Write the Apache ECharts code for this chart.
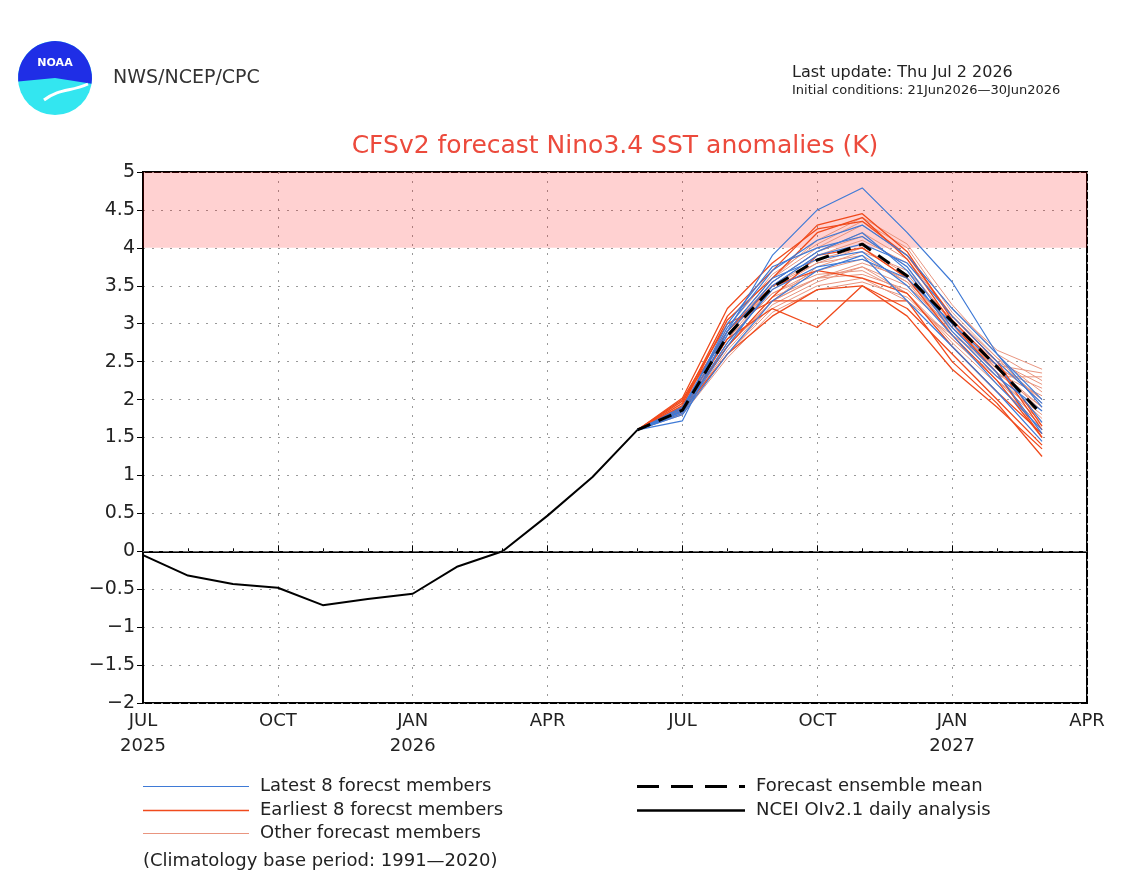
<!DOCTYPE html>
<html>
<head>
<meta charset="utf-8">
<title>CFSv2 Nino3.4</title>
<script src="https://cdn.jsdelivr.net/npm/echarts@6/dist/echarts.min.js"></script>
<style>
  html, body { margin: 0; padding: 0; background: #fff; }
  #chart { width: 1143px; height: 896px; }
</style>
</head>
<body>
<div id="chart"></div>
<script>
// x = months since JUL 2025
var tickLabels = ['JUL\n2025', 'OCT', 'JAN\n2026', 'APR', 'JUL', 'OCT', 'JAN\n2027', 'APR']
var obsX = [0, 1, 2, 3, 4, 5, 6, 7, 8, 9, 10, 11]
var obsValues = [-0.05, -0.32, -0.43, -0.48, -0.71, -0.63, -0.56, -0.2, 0.0, 0.47, 0.98, 1.6]
var fcstX = [11, 12, 13, 14, 15, 16, 17, 18, 19, 20]
var meanValues = [1.6, 1.86, 2.84, 3.48, 3.84, 4.05, 3.63, 3.03, 2.43, 1.8]

var latestMembers = [
  [1.6, 1.72, 2.9, 3.9, 4.5, 4.79, 4.2, 3.55, 2.6, 1.9],
  [1.6, 1.85, 3.0, 3.75, 4.0, 4.15, 3.75, 2.95, 2.35, 1.55],
  [1.6, 1.82, 2.7, 3.5, 3.9, 4.05, 3.8, 3.1, 2.5, 1.95],
  [1.6, 1.9, 2.9, 3.6, 3.85, 3.95, 3.5, 2.85, 2.2, 1.6],
  [1.6, 1.8, 2.6, 3.3, 3.7, 3.9, 3.3, 2.7, 2.1, 1.45],
  [1.6, 1.88, 2.95, 3.7, 4.1, 4.3, 3.9, 3.2, 2.6, 2.0],
  [1.6, 1.84, 2.75, 3.45, 3.75, 3.85, 3.6, 3.0, 2.45, 1.7],
  [1.6, 1.86, 2.85, 3.55, 3.95, 4.2, 3.7, 2.9, 2.3, 1.85]
]
var earliestMembers = [
  [1.6, 1.95, 3.1, 3.7, 4.3, 4.45, 3.95, 3.05, 2.45, 1.6],
  [1.6, 2.0, 3.0, 3.3, 3.3, 3.3, 3.3, 2.5, 1.95, 1.25],
  [1.6, 1.9, 2.8, 3.2, 2.95, 3.5, 3.1, 2.4, 1.9, 1.35],
  [1.6, 1.92, 3.05, 3.6, 4.2, 4.4, 3.85, 3.0, 2.35, 1.5],
  [1.6, 1.98, 2.9, 3.5, 3.7, 3.6, 3.4, 2.7, 2.1, 1.55],
  [1.6, 1.85, 2.6, 3.1, 3.45, 3.5, 3.2, 2.6, 2.0, 1.4],
  [1.6, 2.02, 3.2, 3.8, 4.25, 4.35, 3.9, 3.1, 2.5, 1.65],
  [1.6, 1.88, 2.7, 3.35, 3.9, 4.0, 3.6, 2.85, 2.25, 1.5]
]
var otherMembers = [
  [1.6, 1.85, 2.7, 3.3, 3.6, 3.75, 3.5, 2.95, 2.45, 2.0],
  [1.6, 1.82, 2.6, 3.2, 3.5, 3.6, 3.3, 2.85, 2.45, 2.35],
  [1.6, 1.9, 2.9, 3.6, 4.0, 4.3, 3.9, 3.2, 2.65, 2.4],
  [1.6, 1.86, 2.8, 3.4, 3.7, 3.85, 3.55, 3.0, 2.5, 2.2],
  [1.6, 1.84, 2.75, 3.5, 3.9, 4.1, 3.8, 3.1, 2.55, 2.1],
  [1.6, 1.88, 2.85, 3.5, 3.8, 4.0, 3.6, 2.9, 2.3, 1.75],
  [1.6, 1.8, 2.55, 3.15, 3.45, 3.55, 3.35, 2.8, 2.25, 1.8],
  [1.6, 1.92, 2.95, 3.65, 4.05, 4.35, 4.0, 3.15, 2.55, 1.95],
  [1.6, 1.87, 2.8, 3.4, 3.65, 3.7, 3.4, 2.75, 2.2, 1.65],
  [1.6, 1.83, 2.65, 3.3, 3.75, 3.95, 3.7, 3.05, 2.4, 1.9],
  [1.6, 1.9, 2.9, 3.55, 3.95, 4.15, 3.75, 3.0, 2.4, 1.85],
  [1.6, 1.85, 2.7, 3.35, 3.6, 3.65, 3.45, 2.9, 2.35, 2.05],
  [1.6, 1.89, 2.9, 3.6, 4.1, 4.4, 4.05, 3.25, 2.6, 2.25],
  [1.6, 1.84, 2.75, 3.45, 3.8, 3.9, 3.55, 2.85, 2.25, 1.7],
  [1.6, 1.86, 2.8, 3.5, 3.85, 4.0, 3.65, 2.95, 2.35, 1.9],
  [1.6, 1.81, 2.6, 3.25, 3.55, 3.75, 3.4, 2.8, 2.3, 2.3],
  [1.6, 1.87, 2.85, 3.55, 3.95, 4.2, 3.85, 3.1, 2.5, 2.0],
  [1.6, 1.83, 2.7, 3.3, 3.6, 3.8, 3.6, 2.95, 2.4, 2.15]
]

var FONT = "'DejaVu Sans', sans-serif"

function pairs(xs, ys) {
  return ys.map(function (v, i) { return [xs[i], v] })
}

function memberSeries(list, color, width) {
  return list.map(function (vals) {
    return {
      type: 'line',
      data: pairs(fcstX, vals),
      symbol: 'none',
      silent: true,
      lineStyle: { color: color, width: width },
      animation: false
    }
  })
}

var chart = echarts.init(document.getElementById('chart'))

var series = []
series = series.concat(memberSeries(otherMembers, '#e9957f', 1))
series = series.concat(memberSeries(earliestMembers, '#f04a1c', 1.3))
series = series.concat(memberSeries(latestMembers, '#3f7ad6', 1.2))
series.push({
  type: 'line',
  data: pairs(fcstX, meanValues),
  symbol: 'none',
  lineStyle: { color: '#000', width: 3, type: [14, 9] },
  animation: false
})
series.push({
  type: 'line',
  data: pairs(obsX, obsValues),
  symbol: 'none',
  lineStyle: { color: '#000', width: 2 },
  animation: false,
  markArea: {
    silent: true,
    itemStyle: { color: 'rgba(255, 0, 0, 0.18)' },
    data: [[{ yAxis: 4 }, { yAxis: 5 }]]
  },
  markLine: {
    silent: true,
    symbol: 'none',
    label: { show: false },
    lineStyle: { color: '#666', width: 1, type: [6, 4] },
    data: [{ yAxis: 0 }]
  }
})

function legendRow(x1, x2, y, color, width, dash, text) {
  return [
    { type: 'line', shape: { x1: x1, y1: y + 0.5, x2: x2, y2: y + 0.5 },
      style: { stroke: color, lineWidth: width, lineDash: dash } },
    { type: 'text', x: x2 + 11, y: y, style: { text: text, font: '18px ' + FONT, fill: '#222', textVerticalAlign: 'middle' } }
  ]
}

var graphics = [
  // NOAA logo
  { type: 'circle', shape: { cx: 55, cy: 78, r: 37 }, style: { fill: '#33e6f0' } },
  { type: 'sector', shape: { cx: 55, cy: 78, r: 37, startAngle: Math.PI * 0.97, endAngle: Math.PI * 2.05 }, style: { fill: '#1f2ee6' } },
  { type: 'bezierCurve', shape: { x1: 88, y1: 84, cpx1: 70, cpy1: 92, cpx2: 60, cpy2: 88, x2: 44, y2: 100 }, style: { stroke: '#fff', lineWidth: 3, fill: null } },
  { type: 'text', x: 55, y: 63, style: { text: 'NOAA', font: 'bold 11px ' + FONT, fill: '#fff', textAlign: 'center', textVerticalAlign: 'middle' } },
  { type: 'text', x: 113, y: 78, style: { text: 'NWS/NCEP/CPC', font: '19px ' + FONT, fill: '#333', textVerticalAlign: 'middle' } },
  { type: 'text', x: 792, y: 73, style: { text: 'Last update: Thu Jul 2 2026', font: '16px ' + FONT, fill: '#222', textVerticalAlign: 'middle' } },
  { type: 'text', x: 792, y: 91, style: { text: 'Initial conditions: 21Jun2026\u201430Jun2026', font: '13px ' + FONT, fill: '#222', textVerticalAlign: 'middle' } },
  { type: 'text', x: 615, y: 146, style: { text: 'CFSv2 forecast Nino3.4 SST anomalies (K)', font: '25px ' + FONT, fill: '#ec4a3c', textAlign: 'center', textVerticalAlign: 'middle' } },
  { type: 'text', x: 143, y: 861, style: { text: '(Climatology base period: 1991\u20142020)', font: '18px ' + FONT, fill: '#222', textVerticalAlign: 'middle' } }
]
graphics = graphics
  .concat(legendRow(143, 249, 786, '#3f7ad6', 1.2, null, 'Latest 8 forecst members'))
  .concat(legendRow(143, 249, 810, '#f04a1c', 1.3, null, 'Earliest 8 forecst members'))
  .concat(legendRow(143, 249, 833, '#e9957f', 1, null, 'Other forecast members'))
  .concat(legendRow(637, 745, 786, '#000', 3, [22, 12], 'Forecast ensemble mean'))
  .concat(legendRow(637, 745, 810, '#000', 2.5, null, 'NCEI OIv2.1 daily analysis'))

chart.setOption({
  backgroundColor: '#fff',
  animation: false,
  grid: { left: 143, right: 56, top: 172, bottom: 193, show: true, borderColor: '#000', borderWidth: 2, backgroundColor: 'transparent' },
  xAxis: {
    type: 'value',
    min: 0,
    max: 21,
    interval: 3,
    axisLine: { show: true, lineStyle: { color: '#000', width: 2 } },
    axisTick: { show: true, length: 6, inside: true, lineStyle: { color: '#000' } },
    minorTick: { show: true, splitNumber: 3, length: 3, lineStyle: { color: '#000' } },
    splitLine: { show: true, lineStyle: { color: '#999', type: [2, 7] } },
    axisLabel: {
      margin: 6,
      fontFamily: FONT,
      fontSize: 18,
      color: '#222',
      lineHeight: 25,
      formatter: function (v) { return tickLabels[Math.round(v / 3)] }
    }
  },
  yAxis: {
    type: 'value',
    min: -2,
    max: 5,
    interval: 0.5,
    axisLine: { show: true, lineStyle: { color: '#000', width: 2 } },
    axisTick: { show: true, length: 6, lineStyle: { color: '#000' } },
    splitLine: { show: true, lineStyle: { color: '#999', type: [2, 7] } },
    axisLabel: {
      margin: 8,
      fontFamily: FONT,
      fontSize: 19,
      color: '#222',
      formatter: function (v) { return String(v).replace('-', '\u2212') }
    }
  },
  graphic: graphics,
  series: series
})
</script>
</body>
</html>
